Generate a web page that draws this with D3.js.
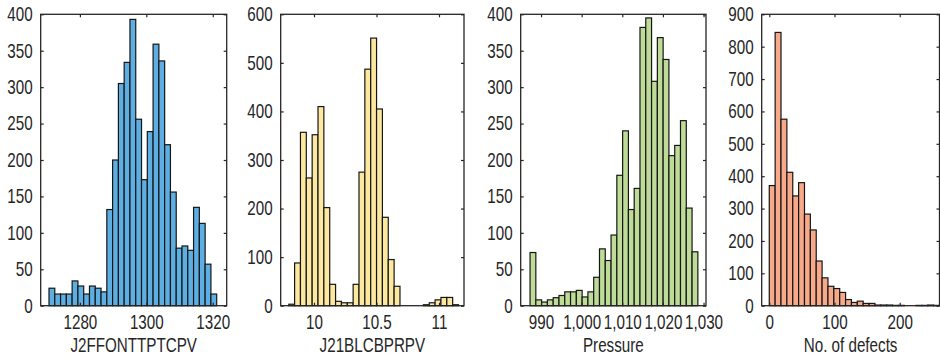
<!DOCTYPE html>
<html>
<head>
<meta charset="utf-8">
<script src="https://cdn.jsdelivr.net/npm/d3@7"></script>
<style>
  html, body { margin: 0; padding: 0; background: #fff; }
  svg { display: block; }
  text { font-family: "Liberation Sans", Arial, Helvetica, sans-serif; fill: #262626; }
</style>
</head>
<body>
<svg id="chart" width="940" height="358"></svg>
<script>
// ---------------- DATA ----------------
// Panel 1: J2FFONTTPTCPV
const p1Label = "J2FFONTTPTCPV";
const p1BinStart = 1270.7;
const p1BinWidth = 1.741;
const p1Counts = [24, 16, 16, 16, 34, 27, 16, 27, 24, 19, 132, 200, 305, 334, 393, 256, 173, 239, 359, 336, 221, 156, 79, 82, 76, 135, 113, 57, 16];
const p1XTicks = [1280, 1300, 1320];
const p1YTicks = [0, 50, 100, 150, 200, 250, 300, 350, 400];
const p1XDomain = [1268.2, 1324.2];
const p1YMax = 400;

// Panel 2: J21BLCBPRPV
const p2Label = "J21BLCBPRPV";
const p2BinStart = 9.798;
const p2BinWidth = 0.04683;
const p2Counts = [3, 88, 357, 263, 352, 410, 202, 44, 9, 6, 6, 44, 275, 487, 551, 405, 182, 95, 40, 0, 0, 0, 0, 2, 6, 12, 17, 17, 2];
const p2XTicks = [10, 10.5, 11];
const p2YTicks = [0, 100, 200, 300, 400, 500, 600];
const p2XDomain = [9.7336, 11.2];
const p2YMax = 600;

// Panel 3: Pressure
const p3Label = "Pressure";
const p3BinStart = 987.3;
const p3BinWidth = 1.424;
const p3Counts = [73, 8, 5, 8, 11, 14, 19, 19, 21, 12, 19, 39, 78, 62, 97, 179, 240, 132, 161, 382, 395, 308, 368, 338, 206, 220, 254, 134, 74];
const p3XTicks = [990, 1000, 1010, 1020, 1030];
const p3YTicks = [0, 50, 100, 150, 200, 250, 300, 350, 400];
const p3XDomain = [985.0, 1030.6];
const p3YMax = 400;

// Panel 4: No. of defects
const p4Label = "No. of defects";
const p4BinStart = 0;
const p4BinWidth = 9;
const p4Counts = [371, 844, 576, 412, 339, 380, 283, 234, 138, 86, 60, 53, 41, 19, 10, 14, 7, 7, 2, 2, 2, 1, 1, 0, 0, 1, 1, 2, 1];
const p4XTicks = [0, 100, 200];
const p4YTicks = [0, 100, 200, 300, 400, 500, 600, 700, 800, 900];
const p4XDomain = [-11.6, 261];
const p4YMax = 900;

// ---------------- LAYOUT ----------------
const plotTop = 14.3, plotBottom = 305.7;
const panels = [
  { label: p1Label, start: p1BinStart, w: p1BinWidth, counts: p1Counts, xt: p1XTicks, yt: p1YTicks, xd: p1XDomain, ymax: p1YMax,
    left: 40.7, right: 226.7, fill: "#5DAEE2", fmt: d3.format("d") },
  { label: p2Label, start: p2BinStart, w: p2BinWidth, counts: p2Counts, xt: p2XTicks, yt: p2YTicks, xd: p2XDomain, ymax: p2YMax,
    left: 280.7, right: 464, fill: "#FDE8A0", fmt: d => String(d) },
  { label: p3Label, start: p3BinStart, w: p3BinWidth, counts: p3Counts, xt: p3XTicks, yt: p3YTicks, xd: p3XDomain, ymax: p3YMax,
    left: 520.7, right: 706, fill: "#BEDC98", fmt: d3.format(",") },
  { label: p4Label, start: p4BinStart, w: p4BinWidth, counts: p4Counts, xt: p4XTicks, yt: p4YTicks, xd: p4XDomain, ymax: p4YMax,
    left: 761.7, right: 939.5, fill: "#F7A98A", fmt: d3.format("d") }
];

const svg = d3.select("#chart");
const SX = 0.76;     // horizontal squeeze of the glyphs
const FS = 20;       // font size

panels.forEach(p => {
  const x = d3.scaleLinear().domain(p.xd).range([p.left, p.right]);
  const y = d3.scaleLinear().domain([0, p.ymax]).range([plotBottom, plotTop]);
  const g = svg.append("g");

  const bins = p.counts.map((c, i) => ({ x0: p.start + i * p.w, x1: p.start + (i + 1) * p.w, c }));

  g.append("g").selectAll("rect")
    .data(bins.filter(b => b.c > 0))
    .join("rect")
    .attr("x", b => x(b.x0))
    .attr("width", b => x(b.x1) - x(b.x0))
    .attr("y", b => y(b.c))
    .attr("height", b => y(0) - y(b.c))
    .attr("fill", p.fill)
    .attr("stroke", "#161616")
    .attr("stroke-width", 1.2);

  g.append("rect")
    .attr("x", p.left).attr("y", plotTop)
    .attr("width", p.right - p.left).attr("height", plotBottom - plotTop)
    .attr("fill", "none").attr("stroke", "#262626").attr("stroke-width", 1.3);

  const ax = g.append("g").attr("transform", `translate(0,${plotBottom})`)
    .call(d3.axisBottom(x).tickValues(p.xt).tickSize(-3).tickPadding(9.5).tickFormat(p.fmt));
  const ay = g.append("g").attr("transform", `translate(${p.left},0)`)
    .call(d3.axisLeft(y).tickValues(p.yt).tickSize(-3).tickPadding(8 / SX).tickFormat(d3.format("d")));
  const at = g.append("g").attr("transform", `translate(0,${plotTop})`)
    .call(d3.axisTop(x).tickValues(p.xt).tickSize(-3).tickFormat(""));
  const ar = g.append("g").attr("transform", `translate(${p.right},0)`)
    .call(d3.axisRight(y).tickValues(p.yt).tickSize(-3).tickFormat(""));

  [ax, ay, at, ar].forEach(a => {
    a.select(".domain").remove();
    a.selectAll("line").attr("stroke", "#262626").attr("stroke-width", 1.2);
    a.selectAll("text")
      .attr("font-family", "'Liberation Sans', Arial, sans-serif")
      .attr("font-size", FS)
      .attr("fill", "#262626")
      .attr("transform", `scale(${SX},1)`);
  });

  g.append("text")
    .attr("transform", `translate(${(p.left + p.right) / 2},351.5) scale(${SX},1)`)
    .attr("text-anchor", "middle")
    .attr("font-size", FS)
    .text(p.label);
});
</script>
</body>
</html>
